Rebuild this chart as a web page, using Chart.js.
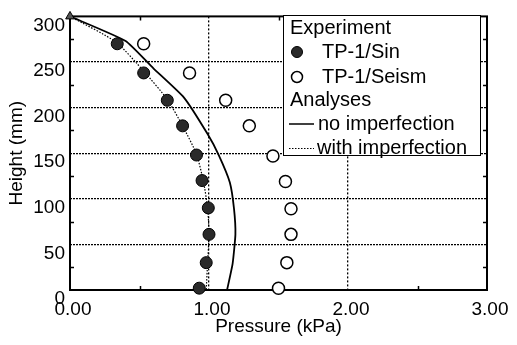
<!DOCTYPE html>
<html>
<head>
<meta charset="utf-8">
<script src="https://cdn.jsdelivr.net/npm/chart.js@4/dist/chart.umd.min.js"></script>
<style>
  html, body { margin: 0; padding: 0; background: #fff; }
  #wrap { width: 517px; height: 345px; position: relative; }
</style>
</head>
<body>
<div id="wrap"><canvas id="chart"></canvas></div>
<script>
// Experiment – TP-1/Sin (filled circles)
const SIN_P = [0.34, 0.53, 0.70, 0.81, 0.91, 0.95, 0.995, 1.00, 0.98, 0.93];
const SIN_H = [270, 238, 208, 180, 148, 120, 90, 61, 30, 2];

// Experiment – TP-1/Seism (open circles)
const SEISM_P = [0.53, 0.86, 1.12, 1.29, 1.46, 1.55, 1.59, 1.59, 1.56, 1.50];
const SEISM_H = [270, 238, 208, 180, 147, 119, 89, 61, 30, 2];

// Analyses – no imperfection (solid)
const NOIMP_P = [0.00, 0.40, 0.60, 0.82, 0.99, 1.07, 1.15, 1.18, 1.19, 1.17, 1.13];
const NOIMP_H = [300, 273, 243, 211, 171, 148, 118, 89, 61, 29, 0];

// Analyses – with imperfection (dotted)
const IMP_P = [0.00, 0.33, 0.53, 0.70, 0.81, 0.91, 0.96, 0.99, 1.00, 0.99, 0.98];
const IMP_H = [300, 272, 240, 209, 180, 149, 119, 90, 61, 30, 0];

// top reference marker
const TOP_P = [0.00];
const TOP_H = [300];

const X_TICKS = [0, 1, 2, 3];
const Y_TICKS = [0, 50, 100, 150, 200, 250, 300];
const X_MINOR = [0.5, 1.5, 2.5];
const Y_MINOR = [25, 75, 125, 175, 225, 275];

const FONT = "'Liberation Sans', Arial, sans-serif";

function pts(xs, ys) { return xs.map((x, i) => ({ x, y: ys[i] })); }

// frame + small inward ticks
const framePlugin = {
  id: "frame",
  beforeDatasetsDraw(chart) {
    const { ctx, chartArea: a, scales } = chart;
    ctx.save();
    ctx.strokeStyle = "#000";
    ctx.lineWidth = 1.5;
    Y_MINOR.forEach(v => {
      const y = Math.round(scales.y.getPixelForValue(v)) + 0.5;
      ctx.beginPath();
      ctx.moveTo(a.left, y); ctx.lineTo(a.left + 4, y);
      ctx.moveTo(a.right, y); ctx.lineTo(a.right - 4, y);
      ctx.stroke();
    });
    X_MINOR.forEach(v => {
      const x = Math.round(scales.x.getPixelForValue(v)) + 0.5;
      ctx.beginPath();
      ctx.moveTo(x, a.bottom); ctx.lineTo(x, a.bottom - 4);
      ctx.moveTo(x, a.top); ctx.lineTo(x, a.top + 4);
      ctx.stroke();
    });
    ctx.lineWidth = 2;
    ctx.strokeRect(a.left, a.top, a.right - a.left, a.bottom - a.top);
    ctx.restore();
  },
};

// boxed legend with the two group headings
const legendPlugin = {
  id: "boxLegend",
  afterDraw(chart) {
    const { ctx } = chart;
    const L = 283, T = 15, R = 480, B = 155;
    ctx.save();
    ctx.fillStyle = "#fff";
    ctx.fillRect(L, T, R - L, B - T);
    ctx.strokeStyle = "#000";
    ctx.lineWidth = 1;
    ctx.strokeRect(L + 0.5, T + 0.5, R - L, B - T);
    ctx.font = "20px " + FONT;
    ctx.fillStyle = "#000";
    ctx.textBaseline = "middle";
    ctx.fillText("Experiment", 290, 28);
    // filled marker
    ctx.beginPath(); ctx.arc(297, 52, 5.5, 0, Math.PI * 2);
    ctx.fillStyle = "#2a2a2a"; ctx.fill(); ctx.stroke();
    ctx.fillStyle = "#000";
    ctx.fillText(chart.data.datasets[0].label, 322, 52);
    // open marker
    ctx.beginPath(); ctx.arc(297, 77, 5.5, 0, Math.PI * 2);
    ctx.lineWidth = 1.5; ctx.stroke();
    ctx.fillText(chart.data.datasets[1].label, 322, 77);
    ctx.fillText("Analyses", 290, 100);
    ctx.beginPath(); ctx.moveTo(289, 124); ctx.lineTo(314, 124); ctx.stroke();
    ctx.fillText(chart.data.datasets[2].label, 318, 124);
    ctx.setLineDash([1.5, 1.5]); ctx.lineWidth = 1;
    ctx.beginPath(); ctx.moveTo(289, 148.5); ctx.lineTo(314, 148.5); ctx.stroke();
    ctx.setLineDash([]);
    ctx.fillText(chart.data.datasets[3].label, 317, 148);
    ctx.restore();
  },
};

Chart.defaults.font.family = FONT;
Chart.defaults.color = "#000";

new Chart(document.getElementById("chart"), {
  type: "scatter",
  data: {
    datasets: [
      {
        label: "TP-1/Sin",
        data: pts(SIN_P, SIN_H),
        pointRadius: 6,
        pointBackgroundColor: "#2a2a2a",
        pointBorderColor: "#000",
        pointBorderWidth: 1,
        showLine: false,
        clip: false,
        order: 1,
      },
      {
        label: "TP-1/Seism",
        data: pts(SEISM_P, SEISM_H),
        pointRadius: 6,
        pointBackgroundColor: "#fff",
        pointBorderColor: "#000",
        pointBorderWidth: 1.5,
        showLine: false,
        clip: false,
        order: 0,
      },
      {
        label: "no imperfection",
        data: pts(NOIMP_P, NOIMP_H),
        showLine: true,
        borderColor: "#000",
        borderWidth: 1.8,
        pointRadius: 0,
        tension: 0.15,
        clip: false,
        order: 3,
      },
      {
        label: "with imperfection",
        data: pts(IMP_P, IMP_H),
        showLine: true,
        borderColor: "#000",
        borderWidth: 1.2,
        borderDash: [1.5, 1.5],
        pointRadius: 0,
        tension: 0.2,
        clip: false,
        order: 2,
      },
      {
        label: "top",
        data: pts(TOP_P, TOP_H),
        pointStyle: "triangle",
        pointRadius: 5,
        pointBackgroundColor: "#555",
        pointBorderColor: "#000",
        pointBorderWidth: 1,
        showLine: false,
        clip: false,
        order: 0,
      },
    ],
  },
  options: {
    responsive: true,
    maintainAspectRatio: false,
    animation: false,
    layout: { padding: { top: 10, right: 30, left: 0, bottom: 0 } },
    plugins: {
      legend: { display: false },
      tooltip: { enabled: false },
    },
    scales: {
      x: {
        type: "linear",
        min: 0,
        max: 3,
        afterBuildTicks: s => { s.ticks = X_TICKS.map(v => ({ value: v })); },
        afterFit: s => { s.height = 55; },
        ticks: {
          callback: v => v.toFixed(2),
          font: { size: 19 },
          padding: 8,
          labelOffset: 3,
          maxRotation: 0,
        },
        grid: {
          drawTicks: false,
          color: c => (c.tick.value === 0 || c.tick.value === 3) ? "rgba(0,0,0,0)" : "#000",
          lineWidth: 1.3,
        },
        border: { display: false, dash: [2, 2] },
        title: {
          display: true,
          text: "Pressure (kPa)",
          font: { size: 19 },
          padding: { top: 0, bottom: 7 },
        },
      },
      y: {
        type: "linear",
        min: 0,
        max: 300,
        afterBuildTicks: s => { s.ticks = Y_TICKS.map(v => ({ value: v })); },
        afterFit: s => { s.width = 70; },
        ticks: {
          font: { size: 19 },
          padding: 5,
          labelOffset: 9,
        },
        grid: {
          drawTicks: false,
          color: c => (c.tick.value === 0 || c.tick.value === 300) ? "rgba(0,0,0,0)" : "#000",
          lineWidth: 1.3,
        },
        border: { display: false, dash: [2, 1] },
        title: {
          display: true,
          text: "Height (mm)",
          font: { size: 19 },
          padding: { top: 5, bottom: 0 },
        },
      },
    },
  },
  plugins: [framePlugin, legendPlugin],
});
</script>
</body>
</html>
